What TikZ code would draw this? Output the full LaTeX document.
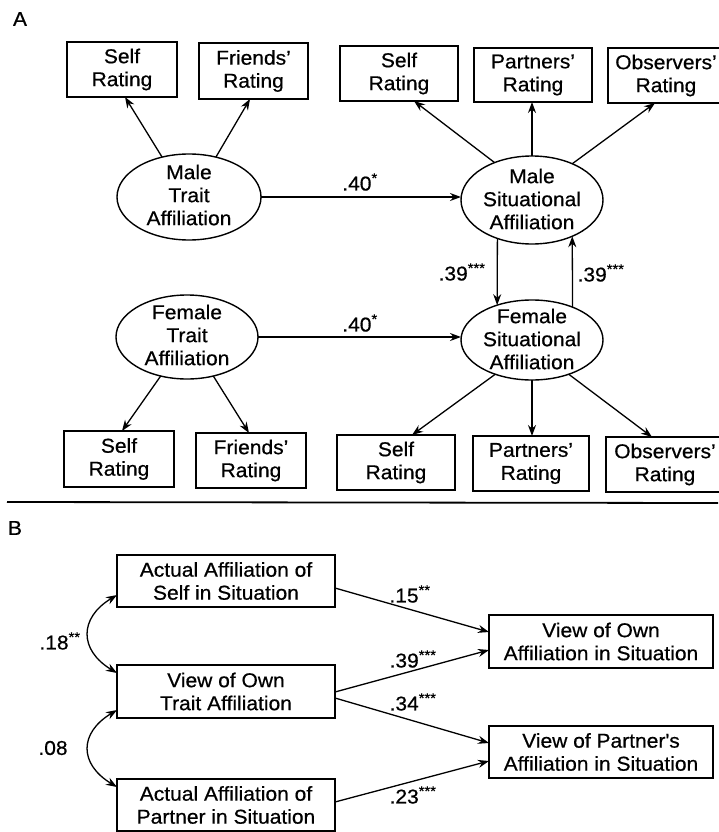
\documentclass[tikz,border=0pt]{standalone}
\usepackage{fontspec}
\setmainfont{Liberation Sans}[FakeStretch=1.05,FakeBold=0.6]
\usetikzlibrary{arrows.meta,calc,shapes.geometric}
\begin{document}
\begin{tikzpicture}[x=1pt,y=-1pt,
  every node/.style={font=\fontsize{20}{23}\selectfont},
  box/.style={draw,line width=1.4pt,rectangle,inner sep=0pt,outer sep=0pt,align=center},
  ell/.style={draw,ellipse,line width=1.4pt,inner sep=0pt,outer sep=0pt},
  txt/.style={align=center,inner sep=0pt},
  lab/.style={inner sep=0pt},
  arr/.style={line width=1.3pt,-{Stealth[length=11pt,width=8pt]}},
  darr/.style={line width=1.3pt,{Stealth[length=11pt,width=8pt]}-{Stealth[length=11pt,width=8pt]}}]
\useasboundingbox (0,0) rectangle (718,832);

% ---------------- Panel A ----------------
\node[lab] (pa) at (20,19) {A};

% male trait
\node[box,minimum width=110pt,minimum height=55pt] (t1) at (122,69.5) {Self\\Rating};
\node[box,minimum width=109pt,minimum height=56pt] (t2) at (253.5,71) {Friends'\\Rating};
\node[ell,minimum width=144pt,minimum height=86pt] (mt) at (189,197) {};
\node[txt] (mtl) at (189,195) {Male\\Trait\\Affiliation};

% male situational
\node[box,minimum width=118pt,minimum height=55pt] (s1) at (399,73.5) {Self\\Rating};
\node[box,minimum width=118pt,minimum height=54pt] (s2) at (533,75) {Partners'\\Rating};
\node[box,minimum width=116pt,minimum height=55pt] (s3) at (666,75.5) {Observers'\\Rating};
\node[ell,minimum width=142pt,minimum height=88pt] (ms) at (532,200) {};
\node[txt] (msl) at (532,199) {Male\\Situational\\Affiliation};

% female trait
\node[ell,minimum width=142pt,minimum height=84pt] (ft) at (187,337) {};
\node[txt] (ftl) at (187,335) {Female\\Trait\\Affiliation};
\node[box,minimum width=110pt,minimum height=56pt] (f1) at (119,459) {Self\\Rating};
\node[box,minimum width=110pt,minimum height=55pt] (f2) at (251,460.5) {Friends'\\Rating};

% female situational
\node[ell,minimum width=142pt,minimum height=80pt] (fs) at (532,340) {};
\node[txt] (fsl) at (532,339) {Female\\Situational\\Affiliation};
\node[box,minimum width=118pt,minimum height=55pt] (g1) at (396,462.5) {Self\\Rating};
\node[box,minimum width=116pt,minimum height=55pt] (g2) at (531,463.5) {Partners'\\Rating};
\node[box,minimum width=118pt,minimum height=55pt] (g3) at (665,464.5) {Observers'\\Rating};

% arrows A
\draw[arr] (mt.124) -- ($(t1.south)+(3,0)$);
\draw[arr] (mt.56) -- ($(t2.south)+(-3.5,0)$);
\draw[arr] (ms.135.7) -- ($(s1.south)+(15,0)$);
\draw[arr] (ms.north) -- (ms.north |- s2.south);
\draw[arr] (ms.42.8) -- ($(s3.south)+(-11,0)$);
\draw[arr] (mt.east) -- (mt.east -| ms.west);
\draw[arr] (ft.east) -- (ft.east -| fs.west);
\draw[arr] (ms.-132.4) -- (fs.135.2);
\draw[arr] (fs.39.5) -- (ms.-42.3);
\draw[arr] (ft.-124) -- ($(f1.north)+(3,0)$);
\draw[arr] (ft.-56) -- ($(f2.north)+(-2,0)$);
\draw[arr] (fs.-137) -- ($(g1.north)+(16,0)$);
\draw[arr] (fs.south) -- (fs.south |- g2.north);
\draw[arr] (fs.-43) -- ($(g3.north)+(-13,0)$);

\node[lab] (l1) at (360,182) {.40\textsuperscript{*}};
\node[lab] (l2) at (360,323) {.40\textsuperscript{*}};
\node[lab] (l3) at (462,272) {.39\textsuperscript{***}};
\node[lab] (l4) at (601,273) {.39\textsuperscript{***}};

% separator
\draw[line width=1.8pt] (7,502) -- (718,503);

% ---------------- Panel B ----------------
\node[lab] (pb) at (15,528) {B};

\node[box,minimum width=218pt,minimum height=52pt] (a1) at (226,581) {Actual Affiliation of\\Self in Situation};
\node[box,minimum width=218pt,minimum height=53pt] (a2) at (226,691.5) {View of Own\\Trait Affiliation};
\node[box,minimum width=218pt,minimum height=52pt] (a3) at (226,805) {Actual Affiliation of\\Partner in Situation};
\node[box,minimum width=224pt,minimum height=53pt] (r1) at (601,641.5) {View of Own\\Affiliation in Situation};
\node[box,minimum width=224pt,minimum height=52pt] (r2) at (601,752) {View of Partner\textquotesingle s\\Affiliation in Situation};

\draw[arr] ($(a1.east)+(0,7)$) -- ($(r1.west)+(0,-9.5)$);
\draw[arr] ($(a2.east)+(0,0.5)$) -- ($(r1.west)+(0,8.5)$);
\draw[arr] ($(a2.east)+(0,6.5)$) -- ($(r2.west)+(0,-9)$);
\draw[arr] ($(a3.east)+(0,-3)$) -- ($(r2.west)+(0,9)$);

\draw[darr] ($(a1.west)+(0,14)$) .. controls (79,618) and (79,650) .. ($(a2.west)+(0,-18.5)$);
\draw[darr] ($(a2.west)+(0,18.5)$) .. controls (79,733) and (79,764) .. ($(a3.west)+(0,-18)$);

\node[lab] (l5) at (60,641) {.18\textsuperscript{**}};
\node[lab] (l6) at (53,748) {.08};
\node[lab] (l7) at (410,594) {.15\textsuperscript{**}};
\node[lab] (l8) at (413,659) {.39\textsuperscript{***}};
\node[lab] (l9) at (413,702) {.34\textsuperscript{***}};
\node[lab] (l10) at (413,795) {.23\textsuperscript{***}};
\end{tikzpicture}
\end{document}
